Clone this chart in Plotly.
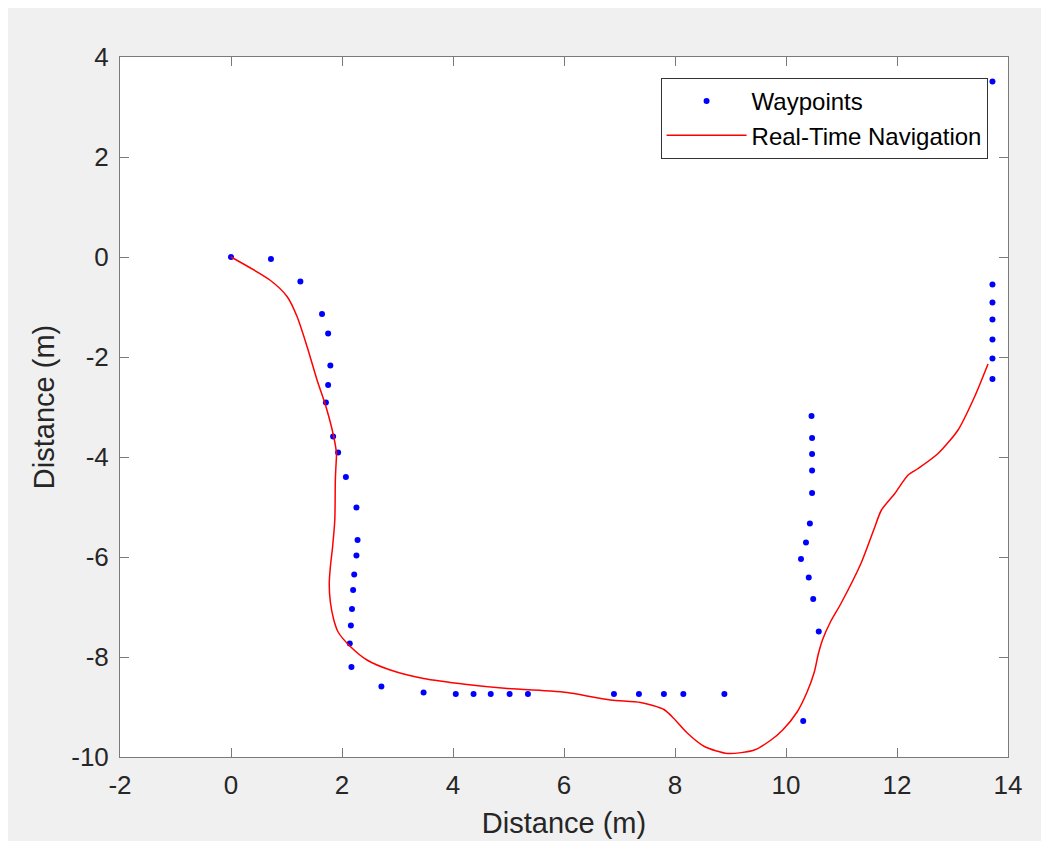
import plotly.graph_objects as go

# Waypoints (m)
wp_x = [0.00, 0.72, 1.25, 1.64, 1.75, 1.79, 1.75, 1.71, 1.84, 1.93, 2.07,
        2.26, 2.28, 2.26, 2.22, 2.20, 2.18, 2.16, 2.14, 2.17, 2.71, 3.47,
        4.05, 4.37, 4.68, 5.02, 5.35, 6.90, 7.35, 7.80, 8.15, 8.89,
        10.31, 10.59, 10.49, 10.41, 10.27, 10.36, 10.43, 10.47, 10.47, 10.47,
        10.47, 10.46, 13.72, 13.72, 13.72, 13.72, 13.72, 13.72, 13.72]
wp_y = [0.00, -0.04, -0.49, -1.14, -1.53, -2.17, -2.56, -2.91, -3.59, -3.91, -4.40,
        -5.01, -5.66, -5.97, -6.35, -6.66, -7.04, -7.37, -7.73, -8.20, -8.59, -8.71,
        -8.74, -8.74, -8.74, -8.74, -8.74, -8.74, -8.74, -8.74, -8.74, -8.74,
        -9.28, -7.49, -6.84, -6.41, -6.04, -5.71, -5.33, -4.72, -4.27, -3.94,
        -3.62, -3.18, -2.44, -2.03, -1.65, -1.25, -0.91, -0.55, 3.51]

# Real-time navigation path (m)
nav_x = [0.00, 0.70, 1.01, 1.19, 1.37, 1.55, 1.71, 1.85, 1.90, 1.89, 1.88, 1.87,
         1.83, 1.79, 1.77, 1.79, 1.85, 1.93, 2.15, 2.45, 2.87, 3.47, 4.25, 4.98, 5.76,
         6.06, 6.84, 7.38, 7.80, 7.98, 8.23, 8.53, 8.95, 9.43, 9.73, 9.94,
         10.20, 10.38, 10.51, 10.58, 10.66, 10.80, 10.99, 11.35, 11.58, 11.72, 11.96, 12.20, 12.38,
         12.74, 13.10, 13.40, 13.64]
nav_y = [0.00, -0.46, -0.79, -1.19, -1.79, -2.46, -2.99, -3.59, -3.93, -4.20, -4.46, -5.26,
         -5.80, -6.20, -6.55, -6.90, -7.25, -7.50, -7.79, -8.06, -8.26, -8.43, -8.55, -8.63, -8.68,
         -8.71, -8.86, -8.91, -9.05, -9.23, -9.53, -9.79, -9.93, -9.86, -9.66, -9.46,
         -9.10, -8.70, -8.30, -7.95, -7.65, -7.30, -6.93, -6.13, -5.46, -5.06, -4.73, -4.36, -4.23,
         -3.93, -3.46, -2.79, -2.14]

x_ticks = [-2, 0, 2, 4, 6, 8, 10, 12, 14]
y_ticks = [-10, -8, -6, -4, -2, 0, 2, 4]

FONT = "Liberation Sans, Arial, Helvetica, sans-serif"
AXC = "#262626"

fig = go.Figure()
fig.add_trace(go.Scatter(
    x=wp_x, y=wp_y, mode="markers", name="Waypoints",
    marker=dict(color="#0000ff", size=6, line=dict(width=0)),
))
fig.add_trace(go.Scatter(
    x=nav_x, y=nav_y, mode="lines", name="Real-Time Navigation",
    line=dict(color="#ff0000", width=1.5, shape="spline", smoothing=0.7),
))

axis_common = dict(
    showgrid=False, zeroline=False, showline=True, linecolor="#7a7a7a", linewidth=1,
    mirror="ticks", ticks="inside", ticklen=9, tickcolor="#7a7a7a", tickwidth=1,
    tickfont=dict(family=FONT, size=26, color=AXC), ticklabelstandoff=5,
    automargin=False,
)

fig.update_layout(
    width=1033, height=833,
    paper_bgcolor="#f0f0f0", plot_bgcolor="#ffffff",
    margin=dict(l=112, r=33, t=49, b=84, pad=0),
    font=dict(family=FONT, color=AXC),
    showlegend=True,
    legend=dict(
        x=0.977, y=0.97, xanchor="right", yanchor="top",
        bgcolor="#ffffff", bordercolor="#333333", borderwidth=1,
        font=dict(family=FONT, size=24, color="#000000"),
        itemwidth=80, tracegroupgap=0,
    ),
    xaxis=dict(
        range=[-2, 14], tickvals=x_ticks, ticktext=[str(v) for v in x_ticks],
        title=dict(text="Distance (m)", font=dict(family=FONT, size=29, color=AXC), standoff=13),
        **axis_common,
    ),
    yaxis=dict(
        range=[-10, 4], tickvals=y_ticks, ticktext=[str(v) for v in y_ticks],
        title=dict(text="Distance (m)", font=dict(family=FONT, size=29, color=AXC), standoff=8),
        **axis_common,
    ),
)

fig.write_html("out.html")
